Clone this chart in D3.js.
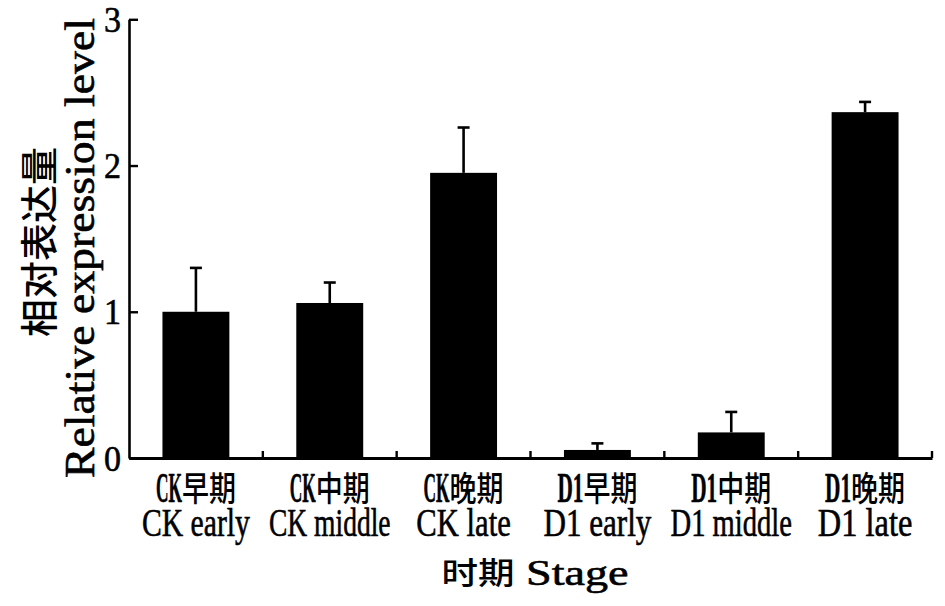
<!DOCTYPE html>
<html>
<head>
<meta charset="utf-8">
<script src="https://cdn.jsdelivr.net/npm/d3@7"></script>
<style>
  body { margin: 0; background: #fff; }
  svg { display: block; }
</style>
</head>
<body>
<div id="chart"></div>
<script>
var categoriesCn = ["CK早期", "CK中期", "CK晚期", "D1早期", "D1中期", "D1晚期"];
var categoriesEn = ["CK early", "CK middle", "CK late", "D1 early", "D1 middle", "D1 late"];
var means = [1.00, 1.06, 1.95, 0.055, 0.175, 2.365];
var errors = [0.30, 0.14, 0.31, 0.045, 0.14, 0.07];
var yTicks = [0, 1, 2, 3];
var yTitleCn = "相对表达量";
var yTitleEn = "Relative expression level";
var xTitle = "时期 Stage";

var width = 945, height = 606;
var latinFont = "'Liberation Serif', 'DejaVu Serif', serif";
var cjkFont = "'Noto Sans CJK SC', sans-serif";
var CAP = 0.655;   // cap height of the serif font, in em
var CJK_INK = 0.88;

var svg = d3.select("#chart").append("svg")
    .attr("width", width)
    .attr("height", height);

var x = d3.scaleBand()
    .domain(categoriesEn)
    .range([129, 932])
    .paddingInner(0.5)
    .paddingOuter(0.25);

var y = d3.scaleLinear()
    .domain([0, 3])
    .range([458, 19.3]);

// draw a string that mixes latin (half width) and chinese (full width) runs
function mixedText(g, str, cx, baseline, spec) {
    var runs = str.match(/[\u4e00-\u9fff]+|[^\u4e00-\u9fff]+/g);
    var isCjk = function(r) { return /[\u4e00-\u9fff]/.test(r); };
    var total = d3.sum(runs, function(r) {
        return r.length * (isCjk(r) ? spec.cjkW : spec.latW);
    });
    var pos = spec.anchor == "end" ? cx - total : cx - total / 2;
    runs.forEach(function(r) {
        var cjk = isCjk(r);
        var w = r.length * (cjk ? spec.cjkW : spec.latW);
        g.append("text")
            .attr("x", pos)
            .attr("y", cjk ? baseline - (spec.cjkShift || 0) : baseline)
            .attr("text-anchor", "start")
            .attr("font-family", cjk ? cjkFont : latinFont)
            .attr("font-weight", cjk ? 500 : (spec.bold ? "bold" : "normal"))
            .attr("font-size", cjk ? spec.cjkH / CJK_INK : spec.cap / CAP)
            .attr("textLength", w)
            .attr("lengthAdjust", "spacingAndGlyphs")
            .attr("fill", "#000")
            .attr("stroke", cjk ? "none" : "#000")
            .attr("stroke-width", 0.6)
            .style("white-space", "pre")
            .text(r);
        pos += w;
    });
}

// bars
svg.selectAll(".bar")
    .data(means)
    .enter().append("rect")
    .attr("class", "bar")
    .attr("x", function(d, i) { return x(categoriesEn[i]); })
    .attr("y", function(d) { return y(d); })
    .attr("width", x.bandwidth())
    .attr("height", function(d) { return y(0) - y(d); })
    .attr("fill", "#000");

// error bars (upper only)
var err = svg.selectAll(".err")
    .data(means)
    .enter().append("g")
    .attr("class", "err")
    .attr("stroke", "#000")
    .attr("stroke-width", 2.6);

err.append("line")
    .attr("x1", function(d, i) { return x(categoriesEn[i]) + x.bandwidth() / 2; })
    .attr("x2", function(d, i) { return x(categoriesEn[i]) + x.bandwidth() / 2; })
    .attr("y1", function(d) { return y(d); })
    .attr("y2", function(d, i) { return y(d + errors[i]); });

err.append("line")
    .attr("x1", function(d, i) { return x(categoriesEn[i]) + x.bandwidth() / 2 - 6; })
    .attr("x2", function(d, i) { return x(categoriesEn[i]) + x.bandwidth() / 2 + 6; })
    .attr("y1", function(d, i) { return y(d + errors[i]); })
    .attr("y2", function(d, i) { return y(d + errors[i]); });

// y axis, ticks pointing inward
var yAxis = svg.append("g")
    .attr("transform", "translate(129,0)")
    .call(d3.axisLeft(y).tickValues(yTicks).tickSize(-9).tickSizeOuter(0).tickFormat(""));
yAxis.select(".domain").attr("stroke-width", 2.6);
yAxis.selectAll(".tick line").attr("stroke-width", 2.4);
yAxis.selectAll(".tick").each(function(d) {
    mixedText(d3.select(this), String(d), -8, 12, { latW: 17, cap: 24, anchor: "end" });
});

// x axis with short inward ticks at the band borders
var xAxis = svg.append("g")
    .attr("transform", "translate(0," + y(0) + ")")
    .call(d3.axisBottom(x).tickSize(0).tickSizeOuter(0).tickFormat(""));
xAxis.select(".domain").attr("stroke-width", 3);

xAxis.selectAll(".border")
    .data(categoriesEn)
    .enter().append("line")
    .attr("class", "border")
    .attr("x1", function(d) { return x(d) + x.bandwidth() + x.step() * x.paddingInner() / 2; })
    .attr("x2", function(d) { return x(d) + x.bandwidth() + x.step() * x.paddingInner() / 2; })
    .attr("y1", 0)
    .attr("y2", -7)
    .attr("stroke", "#000")
    .attr("stroke-width", 2.4);

// category labels
categoriesEn.forEach(function(c, i) {
    var cx = x(c) + x.bandwidth() / 2;
    mixedText(svg, categoriesCn[i], cx, 502, { latW: 13, cap: 27, cjkW: 27, cjkH: 30, cjkShift: 1, bold: true });
    mixedText(svg, c, cx, 536, { latW: 13.5, cap: 26 });
});

// axis titles
mixedText(svg, xTitle, 535, 585, { latW: 19, cap: 24, cjkW: 36.5, cjkH: 27, cjkShift: 1 });

var yTitleA = svg.append("g").attr("transform", "translate(53,242) rotate(-90)");
mixedText(yTitleA, yTitleCn, 0, 0, { cjkW: 38, cjkH: 33 });

var yTitleB = svg.append("g").attr("transform", "translate(94,248) rotate(-90)");
mixedText(yTitleB, yTitleEn, 0, 0, { latW: 18.4, cap: 27 });
</script>
</body>
</html>
